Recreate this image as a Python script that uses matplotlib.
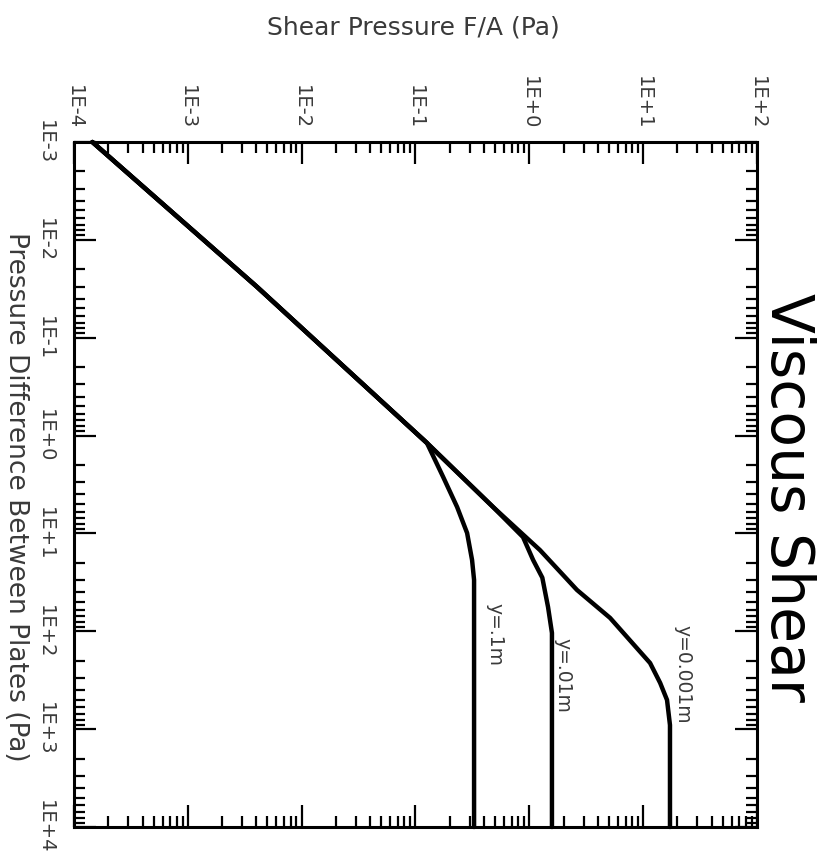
import matplotlib
matplotlib.use("Agg")
import matplotlib.pyplot as plt
from matplotlib.ticker import FixedLocator, LogLocator, NullFormatter

# ---- data ----
# Pressure difference between plates (Pa) and shear pressure F/A (Pa) for each gap y
dp_y001 = [1e-3, 0.0303, 1.19, 5.37, 14.8, 37.8, 73, 211, 337, 503, 908, 1e4]
sh_y001 = [1.45e-4, 4.06e-3, 0.126, 0.48, 1.24, 2.62, 5.12, 11.5, 14.1, 16.2, 17.2, 17.2]

dp_y01 = [1e-3, 0.0303, 1.19, 5.37, 10.9, 18.7, 28.3, 56.5, 104, 1e4]
sh_y01 = [1.45e-4, 4.06e-3, 0.126, 0.48, 0.88, 1.08, 1.30, 1.46, 1.58, 1.58]

dp_y1 = [1e-3, 0.0303, 1.19, 2.65, 5.37, 9.9, 18.7, 29.9, 1e4]
sh_y1 = [1.45e-4, 4.06e-3, 0.126, 0.175, 0.232, 0.284, 0.314, 0.327, 0.327]

series_labels = ["y=0.001m", "y=.01m", "y=.1m"]
label_pos_shear = [22.4, 1.98, 0.50]
label_pos_dp = [273, 280, 109]

shear_ticks = [1e-4, 1e-3, 1e-2, 1e-1, 1e0, 1e1, 1e2]
shear_ticklabels = ["1E-4", "1E-3", "1E-2", "1E-1", "1E+0", "1E+1", "1E+2"]
dp_ticks = [1e-3, 1e-2, 1e-1, 1e0, 1e1, 1e2, 1e3, 1e4]
dp_ticklabels = ["1E-3", "1E-2", "1E-1", "1E+0", "1E+1", "1E+2", "1E+3", "1E+4"]

W, H = 823, 857
fig = plt.figure(figsize=(W / 100, H / 100), dpi=100)
ax = fig.add_axes([74 / W, (H - 827) / H, (757 - 74) / W, (827 - 142) / H])

txt_col = "#3a3a3a"
lw = 3.2
for dps, shs in [(dp_y001, sh_y001), (dp_y01, sh_y01), (dp_y1, sh_y1)]:
    ax.plot(shs, dps, color="black", lw=lw, solid_capstyle="round",
            solid_joinstyle="round", clip_on=False)

for lab, sx, dy in zip(series_labels, label_pos_shear, label_pos_dp):
    ax.text(sx, dy, lab, rotation=-90, ha="center", va="center",
            fontsize=13.5, color=txt_col)

ax.set_xscale("log")
ax.set_yscale("log")
ax.set_xlim(1e-4, 1e2)
ax.set_ylim(1e4, 1e-3)

ax.xaxis.set_major_locator(FixedLocator(shear_ticks))
ax.yaxis.set_major_locator(FixedLocator(dp_ticks))
ax.xaxis.set_minor_locator(LogLocator(base=10, subs=range(2, 10), numticks=50))
ax.yaxis.set_minor_locator(LogLocator(base=10, subs=range(2, 10), numticks=50))
ax.xaxis.set_minor_formatter(NullFormatter())
ax.yaxis.set_minor_formatter(NullFormatter())
ax.set_xticklabels(shear_ticklabels)
ax.set_yticklabels(dp_ticklabels)

ax.tick_params(which="both", direction="in", top=True, bottom=True, left=True, right=True,
               labeltop=True, labelbottom=False, labelleft=True, labelright=False,
               width=1.6, colors="black", labelcolor=txt_col, labelsize=14)
ax.tick_params(which="major", length=16)
ax.tick_params(which="minor", length=8)
ax.tick_params(axis="x", which="major", pad=9)
ax.tick_params(axis="y", which="major", pad=14)
for lbl in ax.get_xticklabels():
    lbl.set_rotation(-90)
    lbl.set_ha("center")
    lbl.set_va("bottom")
for lbl in ax.get_yticklabels():
    lbl.set_rotation(-90)
    lbl.set_va("center")
    lbl.set_ha("right")

for s in ax.spines.values():
    s.set_linewidth(2.2)

fig.text(413 / W, 1 - 27 / H, "Shear Pressure F/A (Pa)", ha="center", va="center",
         fontsize=18, color=txt_col)
fig.text(16 / W, 1 - 497 / H, "Pressure Difference Between Plates (Pa)", rotation=-90,
         ha="center", va="center", fontsize=19, color=txt_col)
fig.text(788 / W, 1 - 497 / H, "Viscous Shear", rotation=-90, ha="center", va="center",
         fontsize=42, fontweight="medium", color="black")

fig.savefig("out.png", dpi=100)
